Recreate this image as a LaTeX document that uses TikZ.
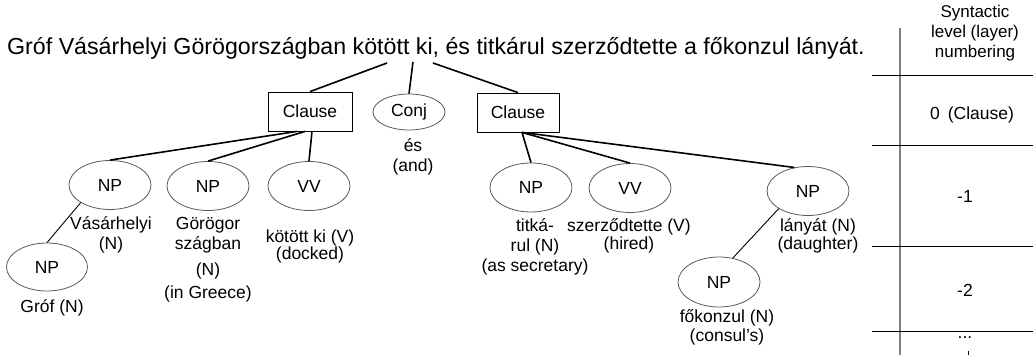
\documentclass[tikz,border=0pt]{standalone}
\usepackage{fontspec}
\setmainfont{Liberation Sans}
\usetikzlibrary{shapes.geometric}
\begin{document}
\begin{tikzpicture}[x=1pt, y=-1pt,
  txt/.style={font=\fontsize{17.5}{20}\selectfont, align=center, inner sep=0pt},
  clausebox/.style={draw, rectangle, line width=0.8pt, minimum width=84pt, minimum height=39pt, inner sep=0pt, font=\fontsize{17.5}{20}\selectfont},
  phrase/.style={draw=gray!70!black, line width=0.8pt, ellipse, minimum width=82pt, minimum height=49pt, inner sep=0pt, font=\fontsize{17.5}{20}\selectfont},
  arm/.style={line width=1.6pt},
  twig/.style={line width=0.9pt},
  rule/.style={line width=0.9pt}]
  \useasboundingbox (0,0) rectangle (1033,355);

  % the sentence
  \node[anchor=base west, inner sep=0pt, font=\fontsize{23.2}{26}\selectfont] (sent) at (7,55)
    {Gróf Vásárhelyi Görögországban kötött ki, és titkárul szerződtette a főkonzul lányát.};
  \coordinate (sl) at (387,63);
  \coordinate (sm) at (413,62);
  \coordinate (sr) at (433,63);

  % level 0
  \node[clausebox] (cl1) at (310,111.5) {Clause};
  \node[phrase, minimum width=72pt, minimum height=36pt] (conj) at (409,112) {Conj};
  \node[clausebox, minimum width=82pt] (cl2) at (518,112.5) {Clause};
  \node[txt] (conjlbl) at (413,157) {és\\(and)};

  \draw[arm] (sl) -- (cl1.north);
  \draw[arm] (sm) -- (conj.north);
  \draw[arm] (sr) -- (cl2.north);

  % level -1
  \node[phrase] (np1) at (110,185) {NP};
  \node[phrase] (np2) at (208,186) {NP};
  \node[phrase] (vv1) at (309,186) {VV};
  \node[phrase] (np3) at (531,187.5) {NP};
  \node[phrase] (vv2) at (630,188) {VV};
  \node[phrase] (np4) at (808,191) {NP};

  \node[txt] (np1lbl) at (111,235) {Vásárhelyi\\(N)};
  \node[txt] (np2lbl) at (208,260) {Görögor\\szágban\\[6pt](N)\\[3pt](in Greece)};
  \node[txt] (vv1lbl) at (310,246.5) {kötött ki (V)\\[-3pt](docked)};
  \node[txt] (np3lbl) at (535,247) {titká-\\rul (N)\\(as secretary)};
  \node[txt] (vv2lbl) at (629,236) {szerződtette (V)\\[-2pt](hired)};
  \node[txt] (np4lbl) at (818,236) {lányát (N)\\[-2pt](daughter)};

  \draw[arm] ([xshift=-13pt]cl1.south) -- (np1.north);
  \draw[arm] ([xshift=-5pt]cl1.south) -- (np2.north);
  \draw[arm] ([xshift=2pt]cl1.south) -- (vv1.north);
  \draw[arm] ([xshift=4pt]cl2.south) -- (np3.north);
  \draw[arm] ([xshift=4pt]cl2.south) -- (vv2.north);
  \draw[arm] ([xshift=4pt]cl2.south) -- (np4.120);

  % level -2
  \node[phrase, minimum width=81pt, minimum height=48pt] (np6) at (47,267) {NP};
  \node[phrase, minimum height=50pt] (np5) at (719,282) {NP};
  \node[txt] (np6lbl) at (52,308) {Gróf (N)};
  \node[txt] (np5lbl) at (727,327.5) {főkonzul (N)\\[-1pt](consul's)};

  \draw[twig] (np1.south west) -- (np6.north);
  \draw[twig] (np4.south west) -- (np5.60);

  % level table
  \draw[gray, line width=1.8pt] (900,28) -- (900,355);
  \foreach \y in {75,145,246,331}
    \draw[rule] (872,\y) -- (1033,\y);
  \node[txt, font=\fontsize{17}{20}\selectfont] (head) at (975,33) {Syntactic\\level (layer)\\numbering};
  \node[txt] (lvl0) at (972,115) {0\hspace{8pt}(Clause)};
  \node[txt] (lvl1) at (965,196) {-1};
  \node[txt] (lvl2) at (965,290) {-2};
  \node[txt] (lvlmore) at (965,338) {...};
  \draw[line width=1pt] (968,351) -- (968,355);
\end{tikzpicture}
\end{document}
